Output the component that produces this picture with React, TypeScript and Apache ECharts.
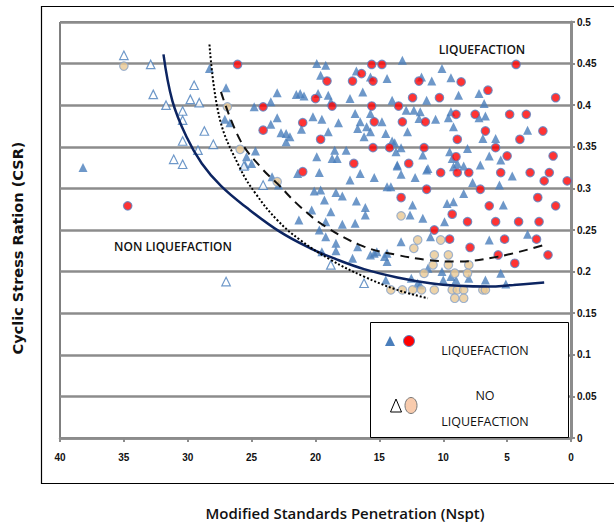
import React, { useEffect, useRef } from "react";
import * as echarts from "echarts";

// Liquefaction cases: blue filled triangles [Nspt, CSR]
const liquefactionTriangles: [number, number][] = [
  [38.2, 0.325], [28.3, 0.444], [27.0, 0.421], [23.0, 0.415], [23.5, 0.404], [24.8, 0.398],
  [27.1, 0.383], [26.7, 0.379], [23.0, 0.385], [23.5, 0.377], [22.7, 0.367], [22.3, 0.366],
  [22.0, 0.362], [22.3, 0.356], [24.7, 0.345], [25.4, 0.338], [25.0, 0.330], [25.5, 0.328],
  [21.5, 0.413], [21.2, 0.414], [20.9, 0.411], [19.9, 0.450], [19.2, 0.448], [19.6, 0.436],
  [19.0, 0.412], [19.8, 0.414], [18.8, 0.404], [20.2, 0.386], [19.5, 0.383], [18.2, 0.379],
  [21.1, 0.371], [19.0, 0.368], [19.9, 0.338], [18.7, 0.336], [18.3, 0.336], [18.5, 0.346],
  [17.6, 0.346], [16.8, 0.441], [15.7, 0.434], [14.4, 0.432], [16.3, 0.416], [17.3, 0.408],
  [14.0, 0.406], [13.2, 0.454], [10.1, 0.444], [11.7, 0.434], [10.9, 0.429], [9.4, 0.433],
  [12.9, 0.394], [12.3, 0.394], [11.3, 0.406], [11.9, 0.384], [10.6, 0.383], [9.6, 0.385],
  [9.4, 0.392], [11.8, 0.392], [16.9, 0.390], [15.7, 0.390], [16.5, 0.380], [14.8, 0.380],
  [16.7, 0.372], [16.0, 0.374], [15.7, 0.368], [16.2, 0.362], [14.5, 0.366], [12.8, 0.368],
  [14.0, 0.357], [13.8, 0.355], [13.3, 0.349], [13.7, 0.344], [13.6, 0.328], [11.6, 0.340],
  [9.5, 0.344], [8.9, 0.330], [9.2, 0.374], [11.2, 0.324], [9.3, 0.336], [8.8, 0.412],
  [7.2, 0.414], [6.8, 0.402], [7.2, 0.385], [6.7, 0.387], [3.4, 0.370], [6.9, 0.360],
  [5.9, 0.360], [8.1, 0.348], [6.4, 0.339], [5.5, 0.334], [7.1, 0.328], [8.4, 0.327],
  [21.4, 0.318], [19.7, 0.319], [17.3, 0.310], [16.5, 0.318], [15.4, 0.313], [13.6, 0.327],
  [13.3, 0.317], [12.2, 0.313], [11.3, 0.322], [9.2, 0.326], [7.7, 0.307], [8.4, 0.294],
  [5.6, 0.304], [4.6, 0.315], [20.1, 0.297], [19.6, 0.298], [18.4, 0.295], [17.9, 0.291],
  [14.4, 0.302], [14.1, 0.302], [16.8, 0.285], [16.1, 0.277], [16.1, 0.268], [19.3, 0.286],
  [20.3, 0.274], [18.8, 0.272], [21.3, 0.262], [19.2, 0.260], [17.9, 0.257], [16.9, 0.258],
  [19.7, 0.250], [19.2, 0.242], [12.4, 0.280], [11.6, 0.264], [12.6, 0.268], [9.7, 0.282],
  [9.2, 0.284], [9.9, 0.260], [5.3, 0.280], [13.3, 0.236], [6.4, 0.238], [3.4, 0.245],
  [18.4, 0.234], [16.7, 0.230], [15.7, 0.220], [15.4, 0.222], [14.4, 0.222], [17.1, 0.216],
  [18.4, 0.225], [19.5, 0.224], [14.4, 0.212], [14.6, 0.218], [15.2, 0.224], [11.2, 0.204],
  [10.1, 0.200], [9.0, 0.190], [8.0, 0.192], [6.7, 0.190], [5.5, 0.198], [5.1, 0.185],
  [12.5, 0.192], [12.0, 0.186], [14.5, 0.190], [11.8, 0.184], [10.0, 0.190], [9.4, 0.194],
  [11.0, 0.242], [23.4, 0.314], [22.9, 0.304]
];

// Liquefaction cases: red circles
const liquefactionCircles: [number, number][] = [
  [26.1, 0.449], [4.3, 0.449], [15.6, 0.449], [14.8, 0.449], [16.4, 0.438], [17.1, 0.429],
  [15.5, 0.429], [11.9, 0.429], [19.1, 0.429], [8.6, 0.428], [6.5, 0.418], [12.4, 0.409],
  [10.3, 0.409], [20.0, 0.408], [1.2, 0.409], [18.7, 0.399], [15.6, 0.399], [13.5, 0.399],
  [24.1, 0.398], [9.0, 0.389], [7.5, 0.389], [4.8, 0.389], [3.5, 0.389], [21.0, 0.379],
  [15.4, 0.380], [13.2, 0.380], [11.4, 0.380], [24.1, 0.370], [6.7, 0.369], [2.2, 0.369],
  [19.6, 0.359], [8.9, 0.359], [4.0, 0.359], [15.5, 0.349], [14.2, 0.349], [11.5, 0.349],
  [5.9, 0.349], [9.0, 0.338], [5.0, 0.339], [1.4, 0.339], [17.0, 0.330], [12.7, 0.330],
  [21.0, 0.320], [10.2, 0.319], [8.9, 0.319], [8.0, 0.319], [5.5, 0.319], [3.2, 0.319],
  [1.7, 0.319], [2.1, 0.309], [0.3, 0.309], [11.3, 0.299], [7.1, 0.299], [13.3, 0.289],
  [2.6, 0.289], [1.2, 0.279], [6.4, 0.279], [9.3, 0.269], [8.1, 0.260], [5.9, 0.260],
  [4.1, 0.260], [2.5, 0.260], [10.7, 0.250], [9.5, 0.239], [5.2, 0.239], [2.7, 0.239],
  [7.9, 0.229], [5.7, 0.220], [1.8, 0.220], [4.4, 0.210], [34.7, 0.279]
];

// No liquefaction cases: white triangles
const noLiquefactionTriangles: [number, number][] = [
  [35.0, 0.460], [32.9, 0.449], [29.5, 0.424], [32.7, 0.413], [29.8, 0.407], [29.1, 0.403],
  [31.7, 0.400], [30.4, 0.393], [30.4, 0.382], [28.7, 0.369], [30.4, 0.357], [28.0, 0.353],
  [29.2, 0.346], [31.1, 0.335], [30.4, 0.329], [25.6, 0.327], [24.1, 0.304], [27.0, 0.188],
  [18.8, 0.208], [16.2, 0.186]
];

// No liquefaction cases: tan circles
const noLiquefactionCircles: [number, number][] = [
  [35.0, 0.447], [26.9, 0.398], [25.9, 0.347], [23.0, 0.308], [13.3, 0.267], [12.0, 0.238],
  [12.3, 0.228], [10.2, 0.238], [10.7, 0.220], [9.6, 0.220], [10.8, 0.208], [9.6, 0.208],
  [8.0, 0.208], [11.5, 0.198], [9.1, 0.198], [8.1, 0.198], [14.1, 0.178], [13.2, 0.178],
  [12.4, 0.178], [11.7, 0.178], [10.7, 0.178], [9.3, 0.178], [8.9, 0.178], [8.4, 0.178],
  [6.9, 0.178], [6.7, 0.178], [9.1, 0.168], [8.4, 0.168]
];

// Boundary curves
const boundarySolid: [number, number][] = [
  [31.9, 0.461], [31.2, 0.405], [30.1, 0.362], [28.9, 0.330], [27.4, 0.303], [25.4, 0.277],
  [22.8, 0.248], [20.4, 0.228], [18.4, 0.215], [16.2, 0.203], [13.6, 0.193], [11.0, 0.186],
  [8.8, 0.183], [6.5, 0.182], [4.5, 0.184], [2.1, 0.187]
];
const boundaryDotted: [number, number][] = [
  [28.3, 0.473], [27.5, 0.384], [25.9, 0.324], [24.7, 0.294], [23.0, 0.262], [21.2, 0.238],
  [18.8, 0.214], [16.2, 0.194], [13.6, 0.178], [11.2, 0.168]
];
const boundaryDashed: [number, number][] = [
  [27.4, 0.416], [25.9, 0.358], [24.2, 0.324], [23.0, 0.306], [21.2, 0.278], [19.2, 0.254],
  [16.2, 0.230], [13.6, 0.220], [11.2, 0.214], [9.0, 0.212], [5.7, 0.218], [2.1, 0.232]
];

const xTitle = "Modified Standards Penetration (Nspt)";
const yTitle = "Cyclic Stress Ration (CSR)";

export default function App() {
  const ref = useRef<HTMLDivElement>(null);
  useEffect(() => {
    if (!ref.current) return;
    const chart = echarts.init(ref.current, null, { renderer: "svg" });
    const tickFont = {
      fontSize: 10,
      fontWeight: "bold" as const,
      color: "#111",
      fontFamily: "'Liberation Sans Narrow', 'Liberation Sans', sans-serif",
    };
    const annFont = "'Open Sans', 'Noto Sans', sans-serif";
    const curve = (data: [number, number][], lineStyle: any) => ({
      type: "line",
      data,
      smooth: 0.4,
      showSymbol: false,
      symbol: "none",
      lineStyle,
      z: 5,
    });
    chart.setOption({
      animation: false,
      backgroundColor: "#ffffff",
      grid: {
        left: 60,
        right: 43,
        top: 22,
        bottom: 86,
        show: true,
        borderColor: "#000",
        borderWidth: 1,
        backgroundColor: "transparent",
      },
      xAxis: {
        type: "value",
        inverse: true,
        min: 0,
        max: 40,
        interval: 5,
        axisLine: { show: true, onZero: false, lineStyle: { color: "#8c8c8c", width: 2.5 } },
        axisTick: { show: true, length: 4, lineStyle: { color: "#8c8c8c", width: 2 } },
        axisLabel: { margin: 14, ...tickFont },
        splitLine: { show: false },
      },
      yAxis: {
        type: "value",
        position: "right",
        min: 0,
        max: 0.5,
        interval: 0.05,
        axisLine: { show: true, onZero: false, lineStyle: { color: "#8c8c8c", width: 3 } },
        axisTick: { show: true, length: 4, lineStyle: { color: "#8c8c8c", width: 2 } },
        axisLabel: { margin: 6, ...tickFont },
        splitLine: { show: true, lineStyle: { color: "#8c8c8c", width: 2.5 } },
      },
      series: [
        {
          type: "scatter",
          data: liquefactionTriangles,
          symbol: "triangle",
          symbolSize: 9,
          itemStyle: { color: "#4a7ebb" },
        },
        {
          type: "scatter",
          data: liquefactionCircles,
          symbol: "circle",
          symbolSize: 8.5,
          itemStyle: { color: "#ff0000", borderColor: "#5b85c4", borderWidth: 1.2 },
        },
        {
          type: "scatter",
          data: noLiquefactionTriangles,
          symbol: "triangle",
          symbolSize: 8.5,
          itemStyle: { color: "#ffffff", borderColor: "#4a7ebb", borderWidth: 1.2 },
        },
        {
          type: "scatter",
          data: noLiquefactionCircles,
          symbol: "circle",
          symbolSize: 8.5,
          itemStyle: { color: "#e9c894", borderColor: "#8aa4c8", borderWidth: 1.2 },
        },
        curve(boundarySolid, { color: "#0c2461", width: 2.5 }),
        curve(boundaryDotted, { color: "#000", width: 2, type: [2, 2] }),
        curve(boundaryDashed, { color: "#111", width: 2, type: [9, 6] }),
      ],
      graphic: [
        {
          type: "rect",
          z: 0,
          silent: true,
          shape: { x: 41.5, y: 6.5, width: 600, height: 477 },
          style: { fill: "none", stroke: "#000", lineWidth: 1.2 },
        },
        {
          type: "text",
          z: 100,
          x: 482,
          y: 49,
          style: {
            text: "LIQUEFACTION",
            textAlign: "center",
            textVerticalAlign: "middle",
            fontSize: 12,
            fontWeight: 600,
            fontFamily: annFont,
            fill: "#111",
          },
        },
        {
          type: "text",
          z: 100,
          x: 173,
          y: 246,
          style: {
            text: "NON LIQUEFACTION",
            textAlign: "center",
            textVerticalAlign: "middle",
            fontSize: 12,
            fontWeight: 600,
            fontFamily: annFont,
            fill: "#111",
          },
        },
        {
          type: "rect",
          z: 100,
          shape: { x: 370.5, y: 322.5, width: 198, height: 115 },
          style: { fill: "#fff", stroke: "#000", lineWidth: 1 },
        },
        {
          type: "polygon",
          z: 101,
          shape: { points: [[385, 346], [395, 346], [390, 336]] },
          style: { fill: "#4a7ebb" },
        },
        {
          type: "circle",
          z: 101,
          shape: { cx: 409, cy: 341, r: 5.5 },
          style: { fill: "#ff0000", stroke: "#5b85c4", lineWidth: 1 },
        },
        {
          type: "text",
          z: 101,
          x: 485,
          y: 350,
          style: {
            text: "LIQUEFACTION",
            textAlign: "center",
            textVerticalAlign: "middle",
            fontSize: 12.5,
            fontFamily: annFont,
            fill: "#111",
          },
        },
        {
          type: "polygon",
          z: 101,
          shape: { points: [[390.5, 412], [401.5, 412], [396, 399]] },
          style: { fill: "#fff", stroke: "#000", lineWidth: 1 },
        },
        {
          type: "ellipse",
          z: 101,
          shape: { cx: 411, cy: 405.5, rx: 6, ry: 8 },
          style: { fill: "#f8cbad", stroke: "#777", lineWidth: 1 },
        },
        {
          type: "text",
          z: 101,
          x: 485,
          y: 395,
          style: {
            text: "NO",
            textAlign: "center",
            textVerticalAlign: "middle",
            fontSize: 12.5,
            fontFamily: annFont,
            fill: "#111",
          },
        },
        {
          type: "text",
          z: 101,
          x: 485,
          y: 421,
          style: {
            text: "LIQUEFACTION",
            textAlign: "center",
            textVerticalAlign: "middle",
            fontSize: 12.5,
            fontFamily: annFont,
            fill: "#111",
          },
        },
        {
          type: "text",
          z: 100,
          x: 18,
          y: 248,
          rotation: Math.PI / 2,
          style: {
            text: yTitle,
            textAlign: "center",
            textVerticalAlign: "middle",
            fontSize: 14.5,
            fontWeight: "bold",
            fontFamily: "'DejaVu Sans', sans-serif",
            fill: "#111",
          },
        },
        {
          type: "text",
          z: 100,
          x: 345,
          y: 513,
          style: {
            text: xTitle,
            textAlign: "center",
            textVerticalAlign: "middle",
            fontSize: 15,
            fontWeight: 600,
            fontFamily: annFont,
            fill: "#111",
          },
        },
      ],
    });
    return () => chart.dispose();
  }, []);
  return (
    <div
      ref={ref}
      style={{ position: "absolute", left: 0, top: 0, width: 614, height: 524, background: "#fff" }}
    />
  );
}
